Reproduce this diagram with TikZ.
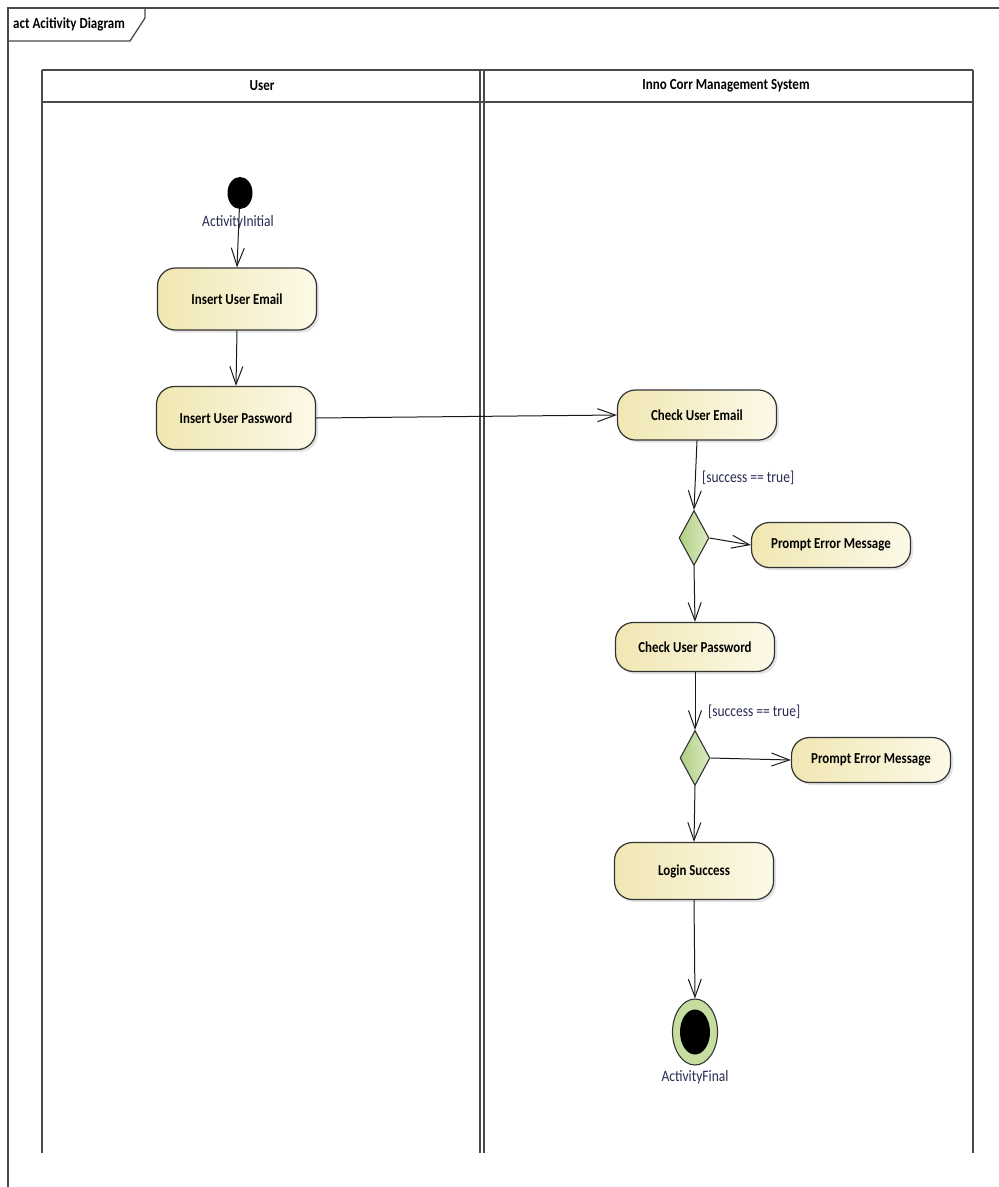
\documentclass[tikz,border=0pt]{standalone}
\usepackage{graphicx}
\usepackage{fontspec}
\setmainfont{Carlito}
\usetikzlibrary{arrows.meta,shapes.geometric,shadows}

\definecolor{actA}{HTML}{F0E7B2}
\definecolor{actB}{HTML}{FCF9E8}
\definecolor{decA}{HTML}{AFCF84}
\definecolor{decB}{HTML}{DCEAC2}
\definecolor{finring}{HTML}{C6DDA0}
\definecolor{lblcol}{HTML}{262B52}
\definecolor{lanecol}{HTML}{4A4A4A}

% slightly tall lettering used throughout the diagram
\newcommand{\tall}[1]{\scalebox{1}[1.18]{#1}}

\begin{document}
\begin{tikzpicture}[x=1pt,y=-1pt,
  lane/.style={draw=lanecol, line width=1.8pt},
  framebox/.style={draw=lanecol, line width=1.3pt},
  action/.style={draw=black!80, line width=1.2pt, rounded corners=18pt,
    left color=actA, right color=actB, minimum width=159pt, inner sep=0pt,
    font=\bfseries\fontsize{12.9}{14}\selectfont,
    drop shadow={shadow xshift=2.5pt, shadow yshift=-2.5pt, opacity=0.22}},
  decision/.style={diamond, draw=black!80, line width=1.1pt, left color=decA, right color=decB,
    minimum width=30pt, minimum height=55pt, inner sep=0pt},
  startnode/.style={ellipse, fill=black, minimum width=25pt, minimum height=32pt, inner sep=0pt},
  finalouter/.style={ellipse, draw=black!80, line width=1.1pt, fill=finring,
    minimum width=45pt, minimum height=66pt, inner sep=0pt},
  finalinner/.style={ellipse, fill=black, minimum width=30pt, minimum height=45pt, inner sep=0pt},
  lbl/.style={text=lblcol, font=\fontsize{13.5}{15}\selectfont, inner sep=0pt},
  lanehead/.style={font=\bfseries\fontsize{13}{15}\selectfont, inner sep=0pt},
  flow/.style={draw=black!90, line width=1pt,
    -{Straight Barb[length=18pt,width=13pt,line width=1pt]}}
]
\useasboundingbox (0,0) rectangle (999,1187);

% diagram frame and its tag
\draw[framebox] (999,8) -- (8,8) -- (8,1187);
\draw[framebox] (8,41) -- (130,41) -- (145,18) -- (145,8);
\node[anchor=west, font=\bfseries\fontsize{13}{15}\selectfont, inner sep=0pt] (title) at (13,24) {\tall{act Acitivity Diagram}};

% swimlanes
\draw[lane] (42,70) -- (973,70);
\draw[lane] (42,102) -- (973,102);
\draw[lane] (42,70) -- (42,1153);
\draw[lane] (973,70) -- (973,1153);
\draw[lane, line width=1.4pt] (480,70) -- (480,1153);
\draw[lane, line width=1.4pt] (484,70) -- (484,1153);
\node[lanehead] (hUser) at (262,86) {\tall{User}};
\node[lanehead] (hSys) at (726,86) {\tall{Inno Corr Management System}};

% activity nodes
\node[startnode] (ini) at (240,193) {};
\node[action, minimum height=62pt] (ue) at (237,299) {\tall{Insert User Email}};
\node[action, minimum height=63pt] (up) at (236,418) {\tall{Insert User Password}};
\node[action, minimum height=50pt] (ce) at (697,415) {\tall{Check User Email}};
\node[decision] (d1) at (694,538) {};
\node[action, minimum height=45pt] (pe1) at (831,545) {\tall{Prompt Error Message}};
\node[action, minimum height=49pt] (cp) at (695,647) {\tall{Check User Password}};
\node[decision] (d2) at (695,758) {};
\node[action, minimum height=45pt] (pe2) at (871,760) {\tall{Prompt Error Message}};
\node[action, minimum height=57pt] (ls) at (694,871) {\tall{Login Success}};
\node[finalouter] (fin) at (695,1032) {};
\node[finalinner] (fininner) at (fin) {};

% flows
\draw[flow] (ini) -- (ue.north);
\node[lbl] (inilbl) at (238,222) {\tall{ActivityInitial}};
\draw[flow] (ue.south) -- (up.north);
\draw[flow] (up.east) -- (ce.west);
\draw[flow] (ce.south) -- (d1.north);
\draw[flow] (d1.east) -- (pe1.west);
\draw[flow] (d1.south) -- (cp.north);
\draw[flow] (cp.south) -- (d2.north);
\draw[flow] (d2.east) -- (pe2.west);
\draw[flow] (d2.south) -- (ls.north);
\draw[flow] (ls.south) -- (fin.north);

% guards and labels
\node[lbl, anchor=west] (g1) at (702,478) {\tall{[success == true]}};
\node[lbl, anchor=west] (g2) at (708,712) {\tall{[success == true]}};
\node[lbl] (finlbl) at (695,1077) {\tall{ActivityFinal}};
\end{tikzpicture}
\end{document}
